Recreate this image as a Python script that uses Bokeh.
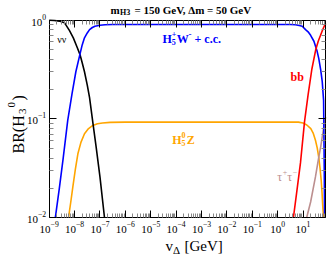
import numpy as np
from bokeh.plotting import figure
from bokeh.models import Label, FixedTicker, LogAxis, CustomJSTickFormatter
from bokeh.embed import file_html
from bokeh.resources import INLINE

# ---- data: log10(v_Delta / GeV) and branching ratios ----
nunu_logv = [-9.0, -8.8, -8.6, -8.4, -8.2, -8.05, -7.9, -7.79, -7.7, -7.61, -7.5, -7.41,
             -7.28, -7.15, -7.0, -6.82]
nunu_br = [0.995, 0.99, 0.975, 0.94, 0.78, 0.66, 0.53, 0.45, 0.37, 0.30, 0.22, 0.164,
           0.092, 0.052, 0.026, 0.0100]

h5w_logv = [-8.76, -8.6, -8.45, -8.27, -8.1, -7.95, -7.79, -7.7, -7.61, -7.5, -7.41, -7.3,
            -7.2, -7.0, -6.8, -6.5, 0.5, 0.7, 0.85, 0.97, 1.1, 1.2, 1.3, 1.43, 1.55, 1.62,
            1.7, 1.757, 1.811, 1.83, 1.84, 1.85]
h5w_br = [0.01, 0.02, 0.04, 0.097, 0.18, 0.30, 0.45, 0.56, 0.66, 0.74, 0.80, 0.84,
          0.865, 0.885, 0.895, 0.90, 0.90, 0.895, 0.88, 0.865, 0.80, 0.76, 0.70, 0.61, 0.49, 0.41,
          0.31, 0.24, 0.154, 0.05, 0.025, 0.01]

h5z_logv = [-8.24, -8.15, -8.07, -7.97, -7.87, -7.75, -7.61, -7.45, -7.28, -7.1, -6.9, -6.6,
            -6.0, 0.5, 0.82, 1.0, 1.15, 1.307, 1.4, 1.49, 1.56, 1.62, 1.67, 1.717, 1.75, 1.78, 1.81]
h5z_br = [0.01, 0.0145, 0.0205, 0.031, 0.0445, 0.058, 0.071, 0.080, 0.086, 0.0895, 0.091, 0.0925,
          0.093, 0.093, 0.093, 0.091, 0.087, 0.080, 0.072, 0.061, 0.051, 0.041, 0.032, 0.024,
          0.018, 0.0129, 0.01]

bb_logv = [0.62, 0.75, 0.9, 1.06, 1.2, 1.35, 1.5, 1.6, 1.69, 1.76, 1.83, 1.895]
bb_br = [0.01, 0.018, 0.036, 0.094, 0.175, 0.32, 0.50, 0.61, 0.70, 0.78, 0.86, 0.92]

tau_logv = [1.14, 1.3, 1.49, 1.62, 1.7, 1.757, 1.81, 1.86, 1.895]
tau_br = [0.01, 0.0145, 0.026, 0.041, 0.053, 0.066, 0.08, 0.097, 0.104]

# axis extent of the boxed plot area
X_MIN, X_MAX = 1e-9, 79.0
Y_MIN, Y_MAX = 1e-2, 1.0
x_decades = list(range(-9, 2))
y_decades = [-2, -1, 0]

FONT = "Liberation Serif"

# the frame fills the canvas; the boxed area is drawn by four axes at fixed locations,
# so that the title and axis labels (which sit outside the box) are not clipped
p = figure(width=327, height=255, x_axis_type="log", y_axis_type="log",
           x_range=(10 ** -10.919, 10 ** 1.965), y_range=(10 ** -2.379, 10 ** 0.197),
           output_backend="svg", toolbar_location=None, min_border=0)
p.grid.visible = False
p.outline_line_color = None
p.background_fill_color = "white"
p.border_fill_color = "white"

xt = FixedTicker(ticks=[10.0 ** k for k in x_decades],
                 minor_ticks=[m * 10.0 ** k for k in range(-9, 2) for m in range(2, 10)])
yt = FixedTicker(ticks=[10.0 ** k for k in y_decades],
                 minor_ticks=[m * 10.0 ** k for k in range(-2, 0) for m in range(2, 10)])

def style_axis(ax):
    ax.axis_line_color = "black"
    ax.axis_line_width = 1
    ax.major_tick_in = 7
    ax.major_tick_out = 0
    ax.minor_tick_in = 4
    ax.minor_tick_out = 0
    ax.major_tick_line_color = "black"
    ax.minor_tick_line_color = "#888888"
    ax.major_label_text_font = FONT
    ax.major_label_text_font_size = "11px"
    ax.major_label_text_color = "black"

bx_ax = p.xaxis[0]
ly_ax = p.yaxis[0]
bx_ax.ticker = xt
ly_ax.ticker = yt
style_axis(bx_ax)
style_axis(ly_ax)
bx_ax.fixed_location = Y_MIN
bx_ax.bounds = (X_MIN, X_MAX)
bx_ax.major_label_standoff = 4
ly_ax.fixed_location = X_MIN
ly_ax.bounds = (Y_MIN, Y_MAX)
ly_ax.major_label_standoff = 3

blank = CustomJSTickFormatter(code="return ''")
top = LogAxis(ticker=xt, formatter=blank, fixed_location=Y_MAX, bounds=(X_MIN, X_MAX))
right = LogAxis(ticker=yt, formatter=blank, fixed_location=X_MAX, bounds=(Y_MIN, Y_MAX))
for ax in (top, right):
    style_axis(ax)
    ax.major_label_standoff = 0
    ax.major_label_text_font_size = "0px"
p.add_layout(top, "above")
p.add_layout(right, "right")

def curve(lv, br, color):
    p.line([10.0 ** v for v in lv], br, line_color=color, line_width=1.6)

curve(h5z_logv, h5z_br, "#FFA500")
curve(tau_logv, tau_br, "#BC8F8F")
curve(nunu_logv, nunu_br, "black")
curve(h5w_logv, h5w_br, "#0000FF")
curve(bb_logv, bb_br, "#FF0000")

def txt(x, y, s, size, color="black", bold=False, dx=0, dy=0, angle=0.0):
    p.add_layout(Label(x=x, y=y, x_offset=dx, y_offset=dy,
                       text=s, text_font=FONT, text_font_size=f"{size}px",
                       text_color=color, text_font_style="bold" if bold else "normal",
                       text_align="left", text_baseline="alphabetic", angle=angle))

# curve labels
txt(10 ** -8.685, 0.635, "νν", 10)

bx, by = 10 ** -4.536, 0.65
blue = "#0000FF"
txt(bx, by, "H", 12, blue, True)
txt(bx, by, "5", 8, blue, True, dx=9.3, dy=-3)
txt(bx, by, "+", 8, blue, True, dx=9.3, dy=5)
txt(bx, by, "W", 12, blue, True, dx=14.3)
txt(bx, by, "-", 9, blue, True, dx=26, dy=5)
txt(bx, by, "+ c.c.", 12, blue, True, dx=32)

ox, oy = 10 ** -4.154, 0.0607
orange = "#FFA500"
txt(ox, oy, "H", 12, orange, True)
txt(ox, oy, "5", 8, orange, True, dx=9.3, dy=-3)
txt(ox, oy, "0", 8, orange, True, dx=9.3, dy=5)
txt(ox, oy, "Z", 12, orange, True, dx=14.5)

txt(10 ** 0.507, 0.268, "bb", 12, "#FF0000", True)

tx, ty = 10 ** -0.016, 0.0257
rb = "#BC8F8F"
txt(tx, ty, "τ", 12, rb)
txt(tx, ty, "+", 8, rb, dx=5.5, dy=5)
txt(tx, ty, "τ", 12, rb, dx=10)
txt(tx, ty, "−", 8, rb, dx=15.5, dy=5)

# title
mx, my = 10 ** -6.585, 10 ** 0.101
txt(mx, my, "m", 11, bold=True)
txt(mx, my, "H3", 8, bold=True, dx=9.6, dy=-2.5)
txt(mx, my, "= 150 GeV, Δm = 50 GeV", 11, bold=True, dx=24)

# x axis label
vx, vy = 10 ** -4.418, 10 ** -2.288
txt(vx, vy, "v", 15)
txt(vx, vy, "Δ", 11, dx=7.5, dy=-3.5)
txt(vx, vy, "[GeV]", 15, dx=19)

# y axis label (rotated)
a = np.pi / 2
yx, yy = 10 ** -10.198, 10 ** -1.3485
txt(yx, yy, "BR(H", 16, angle=a)
txt(yx, yy, "3", 11, dx=3.5, dy=39.5, angle=a)
txt(yx, yy, "0", 11, dx=-7, dy=46, angle=a)
txt(yx, yy, ")", 16, dy=53, angle=a)

open("out.html", "w").write(file_html(p, INLINE))
